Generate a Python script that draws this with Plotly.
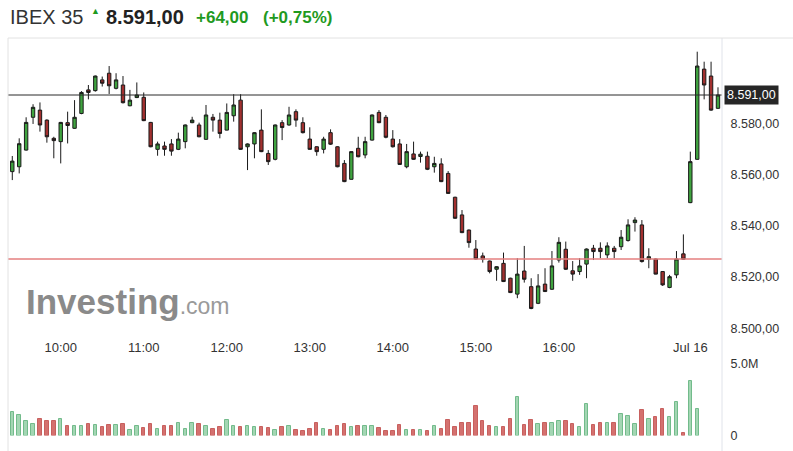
import plotly.graph_objects as go

# ---------------- data ----------------
# Jul 15 5-minute candles 09:25 .. 17:30, then Jul 16 09:00 .. 09:20
day1_times = [f"{(9*60+25+5*i)//60:02d}:{(9*60+25+5*i)%60:02d}" for i in range(98)]
day2_times = ["09:00", "09:05", "09:10", "09:15", "09:20"]
times = day1_times + day2_times

opens = [8561.1, 8563.0, 8569.5, 8582.3, 8585.1, 8581.2, 8574.1, 8572.8, 8580.2, 8578.0,
         8583.8, 8593.0, 8592.7, 8596.9, 8599.5, 8593.6, 8594.9, 8586.8, 8590.0, 8590.1,
         8580.3, 8569.8, 8571.1, 8571.9, 8569.8, 8572.8, 8580.2, 8579.3, 8573.7, 8582.3,
         8581.2, 8577.3, 8582.9, 8589.0, 8570.8, 8571.9, 8577.3, 8568.2, 8565.9, 8580.2,
         8579.3, 8584.5, 8580.2, 8573.8, 8570.8, 8569.8, 8576.3, 8570.8, 8564.3, 8558.1,
         8570.2, 8567.6, 8573.4, 8584.2, 8582.3, 8573.8, 8571.9, 8563.0, 8568.0, 8567.0,
         8567.1, 8563.0, 8564.1, 8560.4, 8551.1, 8544.2, 8538.3, 8530.9, 8528.2, 8526.2,
         8523.0, 8525.3, 8519.5, 8513.3, 8522.3, 8516.2, 8509.7, 8517.2, 8515.2, 8526.6,
         8530.8, 8522.4, 8522.1, 8525.0, 8531.2, 8531.2, 8528.6, 8531.2, 8531.8, 8534.2,
         8541.2, 8540.3, 8526.9, 8527.0, 8522.1, 8515.9, 8520.8, 8529.0,
         8549.0, 8565.9, 8601.1, 8598.4, 8585.8]
closes = [8565.2, 8572.0, 8580.3, 8586.2, 8579.3, 8574.7, 8573.2, 8580.3, 8579.1, 8582.3,
          8592.0, 8592.0, 8598.4, 8595.6, 8594.6, 8596.9, 8588.0, 8589.0, 8591.0, 8581.0,
          8570.8, 8571.9, 8569.8, 8569.1, 8573.8, 8579.3, 8581.2, 8574.7, 8583.2, 8581.2,
          8576.0, 8584.2, 8587.1, 8569.8, 8571.9, 8576.3, 8568.9, 8565.0, 8579.3, 8578.3,
          8583.2, 8581.2, 8576.3, 8569.8, 8568.9, 8573.8, 8571.8, 8563.0, 8557.2, 8568.9,
          8566.9, 8572.8, 8583.2, 8580.2, 8574.5, 8570.8, 8563.9, 8568.9, 8565.9, 8567.9,
          8562.0, 8564.3, 8557.2, 8552.6, 8542.9, 8537.3, 8533.4, 8527.0, 8526.9, 8522.1,
          8524.0, 8518.2, 8513.9, 8521.1, 8519.1, 8507.7, 8516.5, 8514.3, 8524.3, 8533.5,
          8523.0, 8521.1, 8524.3, 8530.9, 8529.9, 8529.9, 8532.1, 8529.9, 8535.5, 8540.3,
          8542.2, 8526.0, 8527.9, 8521.1, 8516.9, 8520.1, 8527.0, 8526.9,
          8565.0, 8602.3, 8594.9, 8585.1, 8591.0]
highs = [8567.2, 8574.1, 8582.3, 8587.4, 8588.1, 8581.5, 8574.7, 8580.5, 8584.5, 8589.0,
         8592.5, 8594.9, 8598.6, 8598.2, 8602.3, 8599.5, 8598.4, 8593.0, 8595.9, 8592.0,
         8580.5, 8572.8, 8572.8, 8573.8, 8576.3, 8579.5, 8582.5, 8580.2, 8587.1, 8583.6,
         8584.1, 8587.7, 8591.3, 8591.3, 8572.1, 8576.5, 8585.4, 8569.5, 8579.5, 8581.2,
         8586.4, 8585.4, 8582.3, 8578.4, 8571.0, 8574.7, 8577.6, 8571.0, 8565.6, 8569.0,
         8574.7, 8574.7, 8583.4, 8585.1, 8583.2, 8577.3, 8573.8, 8571.9, 8572.8, 8568.9,
         8568.9, 8566.9, 8566.3, 8561.3, 8551.3, 8546.1, 8538.5, 8534.4, 8529.5, 8526.4,
         8524.2, 8529.5, 8519.7, 8527.3, 8532.1, 8519.5, 8521.1, 8523.4, 8530.1, 8535.5,
         8533.8, 8526.2, 8527.3, 8531.1, 8532.5, 8533.5, 8533.5, 8532.1, 8538.3, 8542.5,
         8543.3, 8542.2, 8531.2, 8527.2, 8522.3, 8520.8, 8530.1, 8536.6,
         8568.9, 8607.9, 8604.0, 8604.0, 8594.0]
lows = [8557.8, 8560.4, 8569.3, 8579.7, 8576.7, 8572.4, 8566.3, 8564.3, 8572.1, 8577.8,
        8583.5, 8589.3, 8592.3, 8594.3, 8591.4, 8593.2, 8587.7, 8586.6, 8589.8, 8580.8,
        8570.6, 8567.3, 8567.3, 8567.3, 8569.5, 8570.2, 8580.0, 8574.5, 8573.5, 8576.7,
        8574.1, 8577.2, 8580.6, 8569.6, 8561.7, 8566.3, 8568.7, 8563.7, 8565.5, 8573.4,
        8579.0, 8578.6, 8576.0, 8569.6, 8567.3, 8568.2, 8571.5, 8562.8, 8557.0, 8558.0,
        8566.7, 8566.3, 8573.2, 8580.0, 8574.1, 8570.5, 8563.7, 8562.4, 8565.7, 8564.6,
        8561.7, 8560.7, 8557.0, 8552.4, 8542.7, 8537.1, 8531.4, 8526.8, 8525.6, 8521.4,
        8518.5, 8518.0, 8513.7, 8511.7, 8517.8, 8507.4, 8509.4, 8514.1, 8514.9, 8525.6,
        8522.7, 8518.5, 8520.8, 8519.5, 8526.6, 8527.3, 8527.3, 8527.3, 8530.5, 8533.8,
        8537.7, 8525.6, 8523.4, 8521.0, 8516.5, 8515.6, 8519.5, 8526.7,
        8548.8, 8565.7, 8589.3, 8584.8, 8585.6]
# volume in millions (last three candles have no volume yet)
volumes_m = [1.62, 1.44, 0.99, 0.83, 1.16, 0.99, 0.99, 1.16, 0.65, 0.65,
             0.65, 0.83, 0.72, 0.58, 0.74, 0.74, 0.81, 0.37, 0.65, 0.49,
             0.81, 0.47, 0.65, 0.65, 0.90, 0.47, 0.90, 0.81, 0.65, 0.47,
             0.56, 1.06, 0.65, 0.57, 0.65, 0.58, 0.56, 0.49, 0.37, 0.56,
             0.65, 0.37, 0.30, 0.47, 0.90, 0.47, 0.37, 0.65, 0.83, 0.58,
             0.65, 0.65, 0.65, 0.49, 0.30, 0.30, 0.74, 0.37, 0.37, 0.37,
             0.30, 0.65, 0.47, 1.06, 0.56, 0.90, 0.90, 2.06, 0.99, 0.65,
             0.56, 0.56, 1.16, 2.66, 0.74, 1.06, 0.81, 0.90, 0.90, 0.99,
             0.99, 0.81, 0.58, 2.20, 0.74, 0.90, 0.90, 0.90, 1.51, 1.34,
             0.81, 1.76, 1.16, 1.25, 1.85, 1.27, 2.36, 0.14,
             3.77, 1.85, None, None, None]

last_price = 8591.0
prev_close = 8527.0
change = 64.00
change_pct = 0.75

price_ticks = [8500, 8520, 8540, 8560, 8580]
price_tick_text = ["8.500,00", "8.520,00", "8.540,00", "8.560,00", "8.580,00"]
vol_ticks = [0, 5.0e6]
vol_tick_text = ["0", "5.0M"]
time_tick_labels = ["10:00", "11:00", "12:00", "13:00", "14:00", "15:00", "16:00"]

# ---------------- figure ----------------
x = list(range(len(times)))
tick_pos = [times.index(t) for t in time_tick_labels] + [len(day1_times)]
tick_txt = time_tick_labels + ["Jul 16"]

GREEN_TXT = "#1f9a1f"
FONT = "Liberation Sans, Arial, sans-serif"

fig = go.Figure()

vx = [i for i, v in enumerate(volumes_m) if v is not None]
vy = [volumes_m[i] * 1e6 for i in vx]
vup = [closes[i] >= opens[i] for i in vx]
fig.add_trace(go.Bar(
    x=vx, y=vy, yaxis="y2", width=0.5,
    marker=dict(color=["#a3d6b3" if u else "#d4716f" for u in vup],
                line=dict(color=["#72bb8b" if u else "#c8605e" for u in vup], width=1)),
    hoverinfo="skip", showlegend=False))

fig.add_trace(go.Candlestick(
    x=x, open=opens, high=highs, low=lows, close=closes,
    increasing=dict(fillcolor="#3fa33f", line=dict(color="#1a1a1a", width=1)),
    decreasing=dict(fillcolor="#a2302f", line=dict(color="#1a1a1a", width=1)),
    whiskerwidth=0, showlegend=False, hoverinfo="skip"))

W, H = 793, 451
ML, MR, MT, MB = 8, 71, 38, 0
ph = H - MT - MB
pw = W - ML - MR

def py(pix):  # pixel row -> paper y
    return (H - MB - pix) / ph

def px(pix):  # pixel column -> paper x
    return (pix - ML) / pw

px_per_pt = 2.5625
y_top = last_price + (95 - MT) / px_per_pt
y_bot = last_price - (355 - 95) / px_per_pt

fig.update_layout(
    width=W, height=H,
    margin=dict(l=ML, r=MR, t=MT, b=MB, autoexpand=False),
    paper_bgcolor="white", plot_bgcolor="white",
    font=dict(family=FONT, color="#333333", size=13),
    bargap=0,
    xaxis=dict(range=[-0.62, 102.58], showgrid=False, zeroline=False, showline=False,
               tickvals=tick_pos, ticktext=tick_txt, ticks="", automargin=False,
               anchor="free", position=py(338),
               tickfont=dict(size=13, color="#333333"),
               rangeslider=dict(visible=False)),
    yaxis=dict(domain=[py(355), 1], range=[y_bot, y_top], side="right",
               showgrid=False, zeroline=False, showline=False, automargin=False,
               tickvals=price_ticks, ticktext=price_tick_text,
               ticks="outside", ticklen=5, tickcolor="rgba(0,0,0,0)",
               tickfont=dict(size=12.5, color="#333333")),
    yaxis2=dict(domain=[py(435.5), py(360)], range=[0, 5.24e6], side="right",
                showgrid=False, zeroline=False, showline=False, automargin=False,
                tickvals=vol_ticks, ticktext=vol_tick_text,
                ticks="outside", ticklen=5, tickcolor="rgba(0,0,0,0)",
                tickfont=dict(size=12.5, color="#333333")),
)

shapes = [
    dict(type="line", xref="paper", yref="y", x0=0, x1=1, y0=last_price, y1=last_price,
         line=dict(color="#2a2a2a", width=1)),
    dict(type="line", xref="paper", yref="y", x0=0, x1=1, y0=prev_close, y1=prev_close,
         line=dict(color="#e57f7f", width=1.5)),
    dict(type="line", xref="paper", yref="paper", x0=0, x1=0, y0=0, y1=1,
         line=dict(color="#e2e2e2", width=1)),
    dict(type="line", xref="paper", yref="paper", x0=1, x1=1, y0=0, y1=1,
         line=dict(color="#e0e3ea", width=1)),
    dict(type="line", xref="paper", yref="paper", x0=0, x1=px(W), y0=1, y1=1,
         line=dict(color="#e2e2e2", width=1)),
]
fig.update_layout(shapes=shapes)

ann = [
    dict(x=1, xref="paper", y=last_price, yref="y", xanchor="left", yanchor="middle",
         xshift=2, text="8.591,00", showarrow=False, bgcolor="#262626",
         font=dict(color="white", size=12.5), borderpad=2),
    dict(x=px(8), y=py(17), xref="paper", yref="paper", xanchor="left", yanchor="middle",
         text="IBEX 35", showarrow=False, font=dict(size=20, color="#333333")),
    dict(x=px(89), y=py(11), xref="paper", yref="paper", xanchor="left", yanchor="middle",
         text="▲", showarrow=False, font=dict(size=9, color=GREEN_TXT)),
    dict(x=px(104), y=py(17), xref="paper", yref="paper", xanchor="left", yanchor="middle",
         text="<b>8.591,00</b>", showarrow=False, font=dict(size=20, color="#222222")),
    dict(x=px(194), y=py(17.5), xref="paper", yref="paper", xanchor="left", yanchor="middle",
         text="<b>+64,00</b>", showarrow=False, font=dict(size=17, color=GREEN_TXT)),
    dict(x=px(261), y=py(17.5), xref="paper", yref="paper", xanchor="left", yanchor="middle",
         text="<b>(+0,75%)</b>", showarrow=False, font=dict(size=17, color=GREEN_TXT)),
    dict(x=px(24), y=py(301), xref="paper", yref="paper", xanchor="left", yanchor="middle",
         text="<b>Investing</b><span style='font-size:23px;color:#9a9a9a'>.com</span>",
         showarrow=False, font=dict(size=35, color="#8a8a8a")),
]
fig.update_layout(annotations=ann)

# remove the browser's default 8px body margin so the figure fills the window exactly
fig.write_html("out.html", config={"displayModeBar": False},
               post_script="document.body.style.margin='0';")
